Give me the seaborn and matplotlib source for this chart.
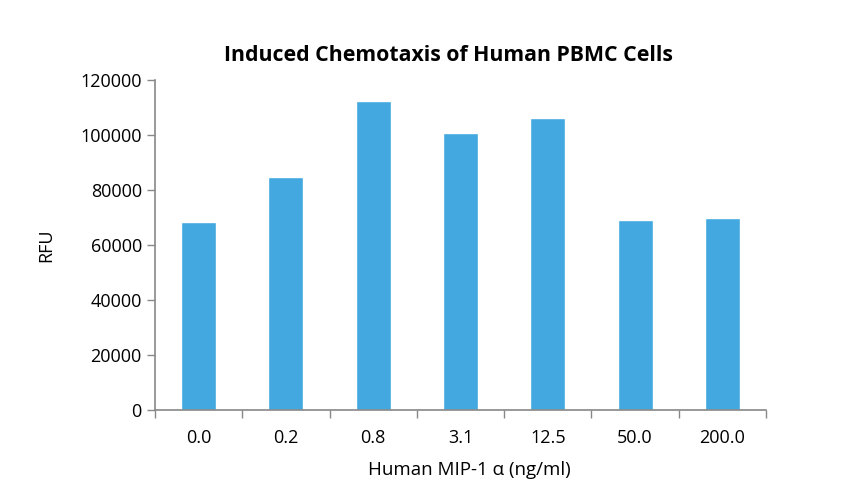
import matplotlib
matplotlib.use("Agg")
import matplotlib.pyplot as plt
import seaborn as sns
import pandas as pd

doses = ["0.0", "0.2", "0.8", "3.1", "12.5", "50.0", "200.0"]
rfu = [68500, 84800, 112400, 100600, 106200, 69100, 69700]

df = pd.DataFrame({"dose": doses, "rfu": rfu})

sns.set_style("white")
plt.rcParams["font.family"] = ["Open Sans", "DejaVu Sans"]
plt.rcParams["text.color"] = "black"
plt.rcParams["axes.labelcolor"] = "black"
plt.rcParams["xtick.labelcolor"] = "black"
plt.rcParams["ytick.labelcolor"] = "black"

fig = plt.figure(figsize=(8.48, 4.96), dpi=100)
ax = fig.add_axes([0.1828, 0.1734, 0.7205, 0.6653])

sns.barplot(data=df, x="dose", y="rfu", color="#42A8DF", width=0.4,
            saturation=1, ax=ax)

ax.set_ylim(0, 120000)
ax.set_yticks(range(0, 120001, 20000))
ax.set_xlim(-0.5, len(doses) - 0.5)
ax.set_xticks([i - 0.5 for i in range(len(doses) + 1)], minor=True)
ax.tick_params(axis="x", which="major", length=0, labelsize=13, pad=14)
ax.tick_params(axis="x", which="minor", length=6, width=1, color="#888888", bottom=True)
ax.tick_params(axis="y", length=6, width=1, color="#888888", labelsize=13, left=True)

for side in ["top", "right"]:
    ax.spines[side].set_visible(False)
for side in ["left", "bottom"]:
    ax.spines[side].set_color("#888888")
    ax.spines[side].set_linewidth(1.2)

ax.set_xlabel("Human MIP-1 α (ng/ml)", fontsize=13.5, labelpad=10)
ax.xaxis.set_label_coords(0.515, -0.155)
ax.set_ylabel("RFU", fontsize=13, labelpad=18)
ax.set_title("Induced Chemotaxis of Human PBMC Cells", fontsize=15.3,
             fontweight="bold", x=0.48, pad=14)

fig.savefig("out.png", dpi=100)
